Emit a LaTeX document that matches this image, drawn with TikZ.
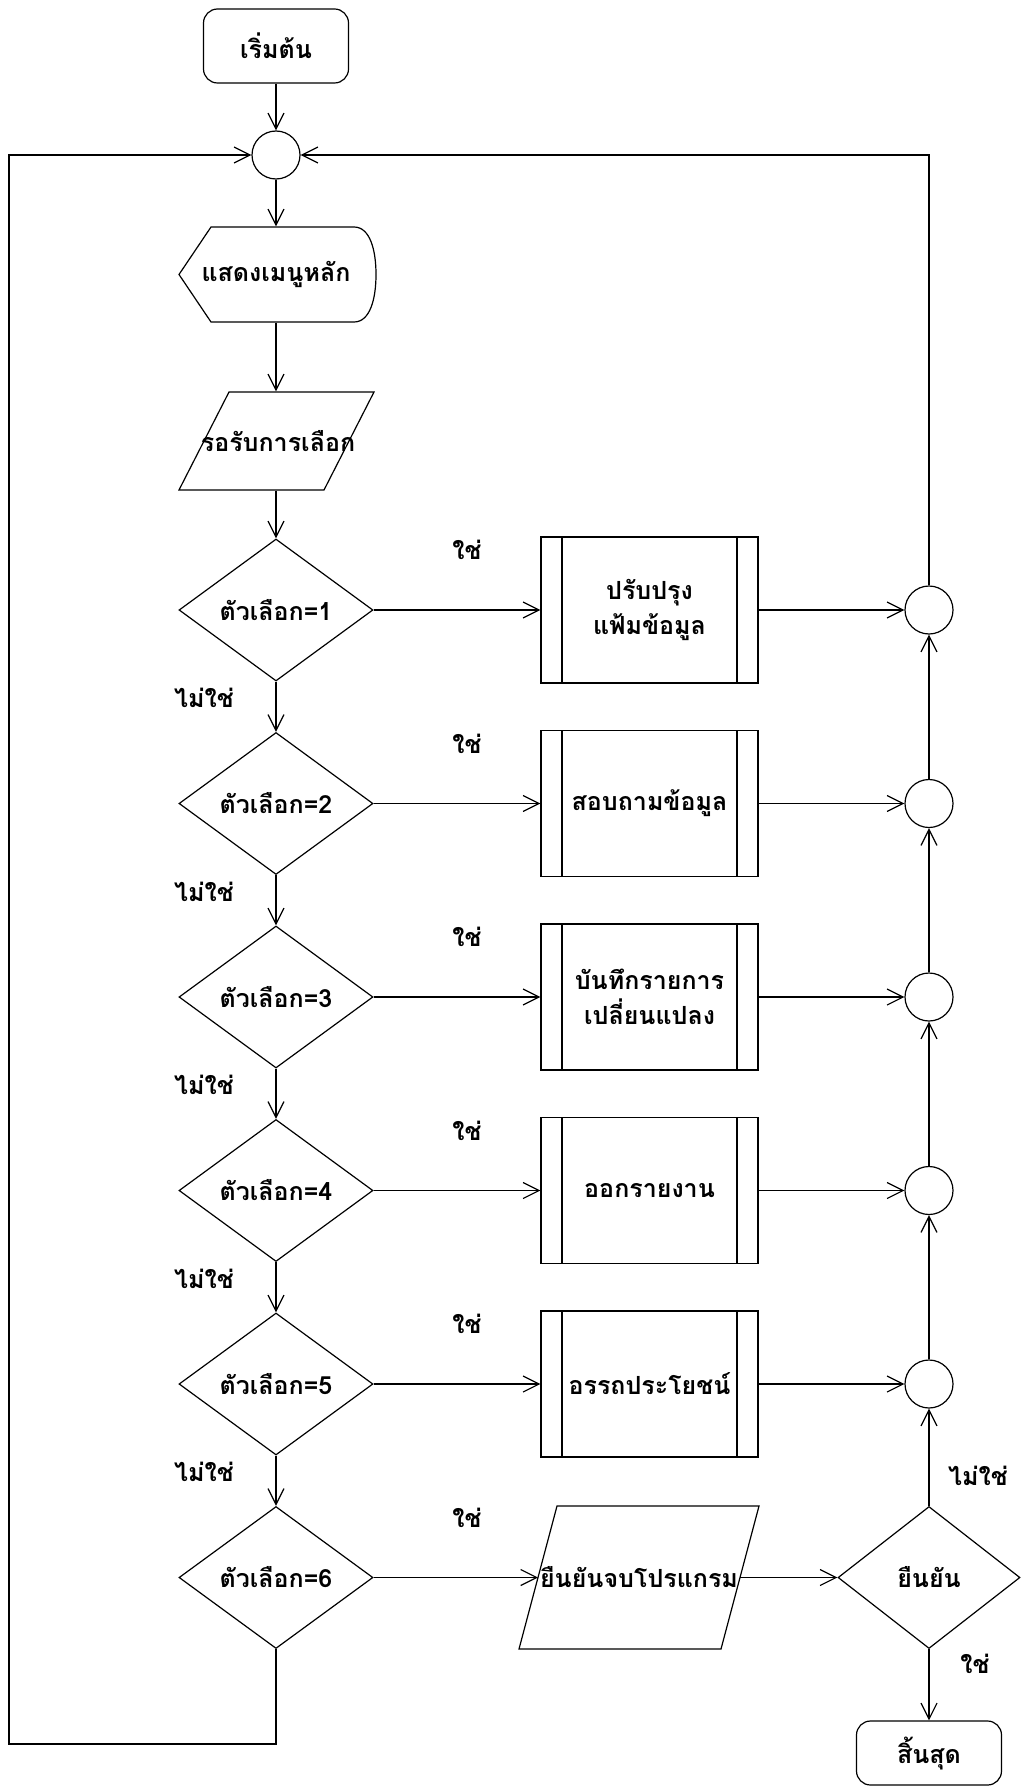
\documentclass[tikz,border=0pt]{standalone}
\usepackage{fontspec}
\newfontfamily\thaifont[Script=Thai]{Loma}
\usetikzlibrary{arrows.meta,shapes.geometric}
\begin{document}
\begin{tikzpicture}[x=0.5pt,y=-0.5pt, line width=0.6pt,
  every node/.style={font=\thaifont\bfseries\fontsize{12.5}{17.5}\selectfont},
  arr/.style={-{Straight Barb[length=8pt,width=8pt]}},
  dec/.style={diamond, draw, minimum width=97pt, minimum height=71pt, inner sep=0pt},
  proc/.style={rectangle, draw, minimum width=108.5pt, minimum height=73pt, align=center,
    path picture={
      \draw ([xshift=10.5pt]path picture bounding box.north west) -- ([xshift=10.5pt]path picture bounding box.south west);
      \draw ([xshift=-10.5pt]path picture bounding box.north east) -- ([xshift=-10.5pt]path picture bounding box.south east);}},
  junc/.style={circle, draw, minimum size=24pt, inner sep=0pt},
  term/.style={rectangle, rounded corners=7pt, draw, minimum width=72.5pt, minimum height=37pt},
  ghost/.style={rectangle, inner sep=0pt},
  lbl/.style={inner sep=0pt}
]
\useasboundingbox (0,0) rectangle (1021,1787);

% top part
\node[term] (start) at (276,46) {เริ่มต้น};
\node[junc] (j0) at (276,155) {};
\draw (179,274.5) -- (211,227) -- (354,227) .. controls (370,227) and (376,250) .. (376,274.5)
      .. controls (376,299) and (370,322) .. (354,322) -- (211,322) -- cycle;
\node[ghost, minimum width=98pt, minimum height=47.5pt] (disp) at (276,274.5) {แสดงเมนูหลัก};
\draw (229,392) -- (374,392) -- (324,490) -- (179,490) -- cycle;
\node[ghost, minimum width=70pt, minimum height=49pt] (inp) at (278,441) {รอรับการเลือก};

% decisions, processes, junctions
\node[dec] (d1) at (276,610) {ตัวเลือก=1};
\node[dec] (d2) at (276,803.5) {ตัวเลือก=2};
\node[dec] (d3) at (276,997) {ตัวเลือก=3};
\node[dec] (d4) at (276,1190.5) {ตัวเลือก=4};
\node[dec] (d5) at (276,1384) {ตัวเลือก=5};
\node[dec] (d6) at (276,1577.5) {ตัวเลือก=6};

\node[proc] (b1) at (649.5,610) {ปรับปรุง\\แฟ้มข้อมูล};
\node[proc] (b2) at (649.5,803.5) {สอบถามข้อมูล};
\node[proc] (b3) at (649.5,997) {บันทึกรายการ\\เปลี่ยนแปลง};
\node[proc] (b4) at (649.5,1190.5) {ออกรายงาน};
\node[proc] (b5) at (649.5,1384) {อรรถประโยชน์};

\node[junc] (m1) at (929,610) {};
\node[junc] (m2) at (929,803.5) {};
\node[junc] (m3) at (929,997) {};
\node[junc] (m4) at (929,1190.5) {};
\node[junc] (m5) at (929,1384) {};

% exit branch
\draw (557,1506) -- (759,1506) -- (721,1649) -- (519,1649) -- cycle;
\node[ghost, minimum width=90pt, minimum height=71pt] (outp) at (639,1577.5) {ยืนยันจบโปรแกรม};
\coordinate (outL) at (538,1577.5);
\coordinate (outR) at (740,1577.5);
\node[dec, minimum width=91pt] (conf) at (929,1577.5) {ยืนยัน};
\node[term, minimum height=32pt] (end) at (929,1753) {สิ้นสุด};
\coordinate (lb) at (9,1744);

% connectors
\draw[arr] (start) -- (j0);
\draw[arr] (j0) -- (disp.north);
\draw[arr] (disp.south) -- (inp.north -| disp.south);
\draw[arr] (inp.south -| disp.south) -- (d1.north);
\draw[arr] (d1.south) -- (d2.north);
\draw[arr] (d2.south) -- (d3.north);
\draw[arr] (d3.south) -- (d4.north);
\draw[arr] (d4.south) -- (d5.north);
\draw[arr] (d5.south) -- (d6.north);
\foreach \k in {1,...,5}{
  \draw[arr] (d\k.east) -- (b\k.west);
  \draw[arr] (b\k.east) -- (m\k.west);
}
\draw[arr] (m2.north) -- (m1.south);
\draw[arr] (m3.north) -- (m2.south);
\draw[arr] (m4.north) -- (m3.south);
\draw[arr] (m5.north) -- (m4.south);
\draw[arr] (m1.north) |- (j0.east);
\draw[arr] (d6.south) |- (lb) |- (j0.west);
\draw[arr] (d6.east) -- (outL);
\draw[arr] (outR) -- (conf.west);
\draw[arr] (conf.north) -- (m5.south);
\draw[arr] (conf.south) -- (end.north);

% labels
\foreach \y/\n in {610/a,803.5/b,997/c,1190.5/d,1384/e}{
  \node[lbl] (no\n) at (204,\y+88) {ไม่ใช่};
}
\foreach \y/\n in {610/a,803.5/b,997/c,1190.5/d,1384/e,1577.5/f}{
  \node[lbl] (yes\n) at (467,\y-60) {ใช่};
}
\node[lbl] (confno) at (978,1476) {ไม่ใช่};
\node[lbl] (confyes) at (975,1664) {ใช่};
\end{tikzpicture}
\end{document}
